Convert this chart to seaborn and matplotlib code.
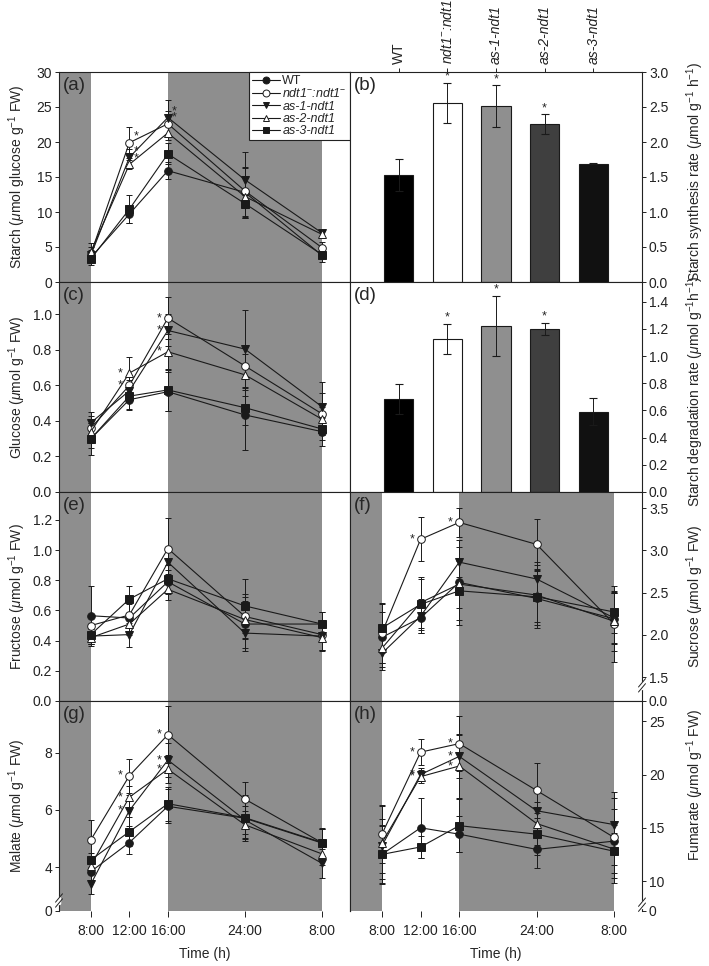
import numpy as np
import pandas as pd
import matplotlib
matplotlib.use('Agg')
import matplotlib.pyplot as plt
from matplotlib.lines import Line2D
import seaborn as sns

# ---- data ----
times = [8, 12, 16, 24, 32]
time_labels = ['8:00', '12:00', '16:00', '24:00', '8:00']
genotypes = ['WT', 'ndt1-:ndt1-', 'as-1-ndt1', 'as-2-ndt1', 'as-3-ndt1']
legend_labels = ['WT', r'ndt1$^{-}$:ndt1$^{-}$', 'as-1-ndt1', 'as-2-ndt1', 'as-3-ndt1']

# rows: WT, ndt1-:ndt1-, as-1, as-2, as-3 ; columns: times
starch = [[3.5, 9.7, 15.9, 12.8, 3.8],
          [4.0, 19.9, 22.6, 13.0, 4.9],
          [3.8, 17.8, 23.5, 14.6, 7.0],
          [4.3, 16.8, 21.3, 12.2, 6.8],
          [3.3, 10.4, 18.3, 11.2, 3.9]]
starch_err = [[0.6, 1.2, 1.2, 3.5, 0.9],
              [1.0, 2.2, 1.8, 3.5, 0.8],
              [0.8, 1.2, 2.5, 4.0, 0.5],
              [1.3, 0.7, 1.0, 3.0, 0.5],
              [0.8, 2.0, 1.5, 2.0, 0.5]]

glucose = [[0.30, 0.52, 0.565, 0.434, 0.34],
           [0.36, 0.60, 0.98, 0.71, 0.44],
           [0.39, 0.57, 0.91, 0.805, 0.48],
           [0.34, 0.67, 0.79, 0.66, 0.41],
           [0.30, 0.54, 0.575, 0.475, 0.355]]
glucose_err = [[0.09, 0.06, 0.11, 0.20, 0.08],
               [0.07, 0.05, 0.12, 0.12, 0.12],
               [0.06, 0.06, 0.09, 0.22, 0.14],
               [0.05, 0.09, 0.10, 0.12, 0.07],
               [0.05, 0.07, 0.12, 0.10, 0.06]]

fructose = [[0.565, 0.55, 0.79, 0.51, 0.51],
            [0.50, 0.57, 1.01, 0.56, 0.44],
            [0.43, 0.44, 0.92, 0.45, 0.43],
            [0.42, 0.51, 0.74, 0.54, 0.42],
            [0.44, 0.675, 0.81, 0.63, 0.51]]
fructose_err = [[0.20, 0.09, 0.08, 0.18, 0.08],
                [0.07, 0.08, 0.20, 0.15, 0.10],
                [0.05, 0.08, 0.08, 0.10, 0.10],
                [0.04, 0.07, 0.07, 0.12, 0.08],
                [0.06, 0.09, 0.09, 0.18, 0.08]]

sucrose = [[1.97, 2.20, 2.62, 2.43, 2.19],
           [2.02, 3.13, 3.33, 3.07, 2.13],
           [1.78, 2.22, 2.86, 2.66, 2.20],
           [1.84, 2.38, 2.60, 2.47, 2.16],
           [2.08, 2.36, 2.52, 2.45, 2.27]]
sucrose_err = [[0.30, 0.18, 0.50, 0.35, 0.30],
               [0.35, 0.26, 0.17, 0.30, 0.45],
               [0.20, 0.20, 0.18, 0.20, 0.30],
               [0.22, 0.30, 0.28, 0.35, 0.35],
               [0.30, 0.30, 0.35, 0.30, 0.25]]

malate = [[3.84, 4.86, 6.13, 5.71, 4.84],
          [4.95, 7.20, 8.64, 6.38, 4.85],
          [3.40, 5.98, 7.75, 5.65, 4.13],
          [4.05, 6.45, 7.43, 5.48, 4.46],
          [4.25, 5.24, 6.22, 5.73, 4.86]]
malate_err = [[0.30, 0.40, 0.60, 0.80, 0.50],
              [0.70, 0.60, 1.00, 0.60, 0.50],
              [0.35, 0.55, 0.60, 0.50, 0.50],
              [0.30, 0.40, 0.50, 0.50, 0.40],
              [0.25, 0.50, 0.60, 0.70, 0.50]]

fumarate = [[12.5, 15.0, 14.4, 12.97, 13.75],
            [14.4, 22.1, 22.9, 18.5, 14.1],
            [13.3, 20.0, 21.7, 16.6, 15.3],
            [13.6, 19.8, 20.8, 15.4, 13.0],
            [12.5, 13.2, 15.2, 14.4, 12.8]]
fumarate_err = [[2.8, 2.8, 1.7, 1.7, 3.0],
                [2.7, 1.2, 2.6, 2.6, 4.3],
                [2.5, 0.6, 2.0, 2.0, 2.5],
                [3.4, 0.6, 3.0, 2.0, 1.5],
                [2.7, 1.0, 2.5, 2.0, 2.5]]

synthesis = [1.53, 2.56, 2.51, 2.26, 1.69]
synthesis_err = [0.23, 0.29, 0.30, 0.14, 0.01]
degradation = [0.684, 1.127, 1.223, 1.199, 0.59]
degradation_err = [0.11, 0.11, 0.22, 0.045, 0.10]
bar_sig = [1, 2, 3]

# significance stars: (genotype index, time index)
starch_sig = [(1, 1), (2, 1), (3, 1), (1, 2), (2, 2)]
glucose_sig = [(3, 1), (1, 1), (1, 2), (2, 2), (3, 2)]
fructose_sig = []
sucrose_sig = [(1, 1), (1, 2)]
malate_sig = [(1, 1), (3, 1), (2, 1), (1, 2), (2, 2), (3, 2)]
fumarate_sig = [(1, 1), (2, 1), (3, 1), (1, 2), (2, 2), (3, 2)]

# ---- style ----
sns.set_theme(style='ticks')
plt.rcParams['font.family'] = ['Liberation Sans', 'DejaVu Sans']
plt.rcParams['mathtext.fontset'] = 'custom'
plt.rcParams['mathtext.rm'] = 'Liberation Sans'
plt.rcParams['mathtext.it'] = 'Liberation Sans:italic'
plt.rcParams['axes.linewidth'] = 0.8
plt.rcParams['axes.edgecolor'] = '#222222'

markers = ['o', 'o', 'v', '^', 's']
faces = ['k', 'w', 'k', 'w', 'k']
bar_colors = ['#000000', '#ffffff', '#8f8f8f', '#3f3f3f', '#111111']
shade = '#8e8e8e'
xlim = (4.7, 34.9)

fig = plt.figure(figsize=(7.09, 9.66), dpi=100)
W_PX, H_PX = 709, 966
col_left = [59, 350]
col_right = [350, 642]
row_top = [72, 282, 492, 701]
row_bot = [282, 492, 701, 911]
RIGHT_LABEL_X = 1.145


def make_ax(col, row):
    l = col_left[col] / W_PX
    w = (col_right[col] - col_left[col]) / W_PX
    b = 1 - row_bot[row] / H_PX
    h = (row_bot[row] - row_top[row]) / H_PX
    ax = fig.add_axes([l, b, w, h])
    ax.set_facecolor('white')
    ax.tick_params(labelsize=10, length=3, width=0.7, pad=2, colors='#222222')
    if col == 1:
        ax.yaxis.tick_right()
        ax.yaxis.set_label_position('right')
    return ax


def draw_break(ax, xa, ya):
    ax.plot([xa, xa], [ya - 0.012, ya + 0.012], transform=ax.transAxes,
            color='white', lw=2.5, clip_on=False, zorder=6)
    for off in (-0.012, 0.012):
        ax.plot([xa - 0.012, xa + 0.012], [ya + off - 0.02, ya + off + 0.02],
                transform=ax.transAxes, color='#222222', lw=0.7,
                clip_on=False, zorder=7)


def line_panel(col, row, vals, errs, sig, ylim, ticks, ticklabels, ylabel,
               letter, star_side='left', bottom=False):
    ax = make_ax(col, row)
    ax.axvspan(xlim[0], 8, color=shade, lw=0, zorder=0)
    ax.axvspan(16, 32, color=shade, lw=0, zorder=0)
    for i in range(len(genotypes)):
        ax.errorbar(times, vals[i], yerr=errs[i], fmt='none', ecolor='k',
                    elinewidth=0.7, capsize=2.5, capthick=0.7, zorder=2)
        sns.lineplot(x=times, y=vals[i], ax=ax, color='k', lw=0.8,
                     marker=markers[i], markersize=5.5,
                     markerfacecolor=faces[i], markeredgecolor='k',
                     markeredgewidth=0.7, errorbar=None, zorder=3,
                     legend=False)
    for gi, ti in sig:
        if star_side == 'left':
            ax.text(times[ti] - 0.9, vals[gi][ti], '*', ha='center',
                    va='center', fontsize=9, zorder=4)
        else:
            ax.text(times[ti] + 0.7, vals[gi][ti], '*', ha='center',
                    va='bottom', fontsize=9, zorder=4)
    ax.set_xlim(*xlim)
    ax.set_ylim(*ylim)
    ax.set_yticks(ticks)
    ax.set_yticklabels(ticklabels)
    if bottom:
        ax.spines['bottom'].set_visible(False)
        ax.set_xticks(times)
        ax.set_xticklabels(time_labels)
        ax.tick_params(axis='x', length=4.5, pad=5)
        ax.set_xlabel('Time (h)', fontsize=10, labelpad=6)
    else:
        ax.set_xticks([])
    ax.set_ylabel(ylabel, fontsize=10)
    if col == 0:
        ax.yaxis.set_label_coords(-0.105, 0.5)
    else:
        ax.yaxis.set_label_coords(RIGHT_LABEL_X, 0.5)
    ax.text(0.012, 0.975, letter, transform=ax.transAxes, ha='left',
            va='top', fontsize=13.5, zorder=5)
    return ax


def bar_panel(row, vals, errs, ylim, ticks, ticklabels, ylabel, letter):
    ax = make_ax(1, row)
    df = pd.DataFrame({'genotype': genotypes, 'value': vals})
    sns.barplot(data=df, x='genotype', y='value', hue='genotype',
                palette=bar_colors, order=genotypes, hue_order=genotypes,
                edgecolor='k', linewidth=0.8, width=0.6, legend=False, ax=ax)
    ax.errorbar(range(len(vals)), vals, yerr=errs, fmt='none', ecolor='k',
                elinewidth=0.7, capsize=3, capthick=0.8, zorder=4)
    for i in bar_sig:
        ax.text(i, vals[i] + errs[i], '*', ha='center', va='bottom',
                fontsize=9)
    ax.set_xlim(-1, 5)
    ax.set_ylim(*ylim)
    ax.set_yticks(ticks)
    ax.set_yticklabels(ticklabels)
    ax.set_xlabel('')
    ax.set_ylabel(ylabel, fontsize=10)
    ax.text(0.012, 0.975, letter, transform=ax.transAxes, ha='left',
            va='top', fontsize=13.5, zorder=5)
    return ax


# (a) starch
ax_a = line_panel(0, 0, starch, starch_err, starch_sig, (0, 30),
                  [0, 5, 10, 15, 20, 25, 30],
                  ['0', '5', '10', '15', '20', '25', '30'],
                  r'Starch ($\mu$mol glucose g$^{-1}$ FW)', '(a)',
                  star_side='right')
handles = [Line2D([0], [0], color='k', lw=0.8, marker=markers[i],
                  markersize=5, markerfacecolor=faces[i],
                  markeredgecolor='k', markeredgewidth=0.7)
           for i in range(len(genotypes))]
leg = ax_a.legend(handles, legend_labels, loc='upper right', fontsize=9,
                  frameon=True, fancybox=False, edgecolor='#222222',
                  framealpha=1, borderaxespad=0, borderpad=0.25,
                  labelspacing=0.02, handlelength=2.2, handletextpad=0.2)
leg.get_frame().set_linewidth(0.8)
for i, t in enumerate(leg.get_texts()):
    if i > 0:
        t.set_fontstyle('italic')

# (b) starch synthesis rate
ax_b = bar_panel(0, synthesis, synthesis_err, (0, 3.0),
                 [0, 0.5, 1.0, 1.5, 2.0, 2.5, 3.0],
                 ['0.0', '0.5', '1.0', '1.5', '2.0', '2.5', '3.0'],
                 r'Starch synthesis rate ($\mu$mol g$^{-1}$ h$^{-1}$)', '(b)')
ax_b.xaxis.tick_top()
ax_b.set_xticks(range(len(genotypes)))
ax_b.set_xticklabels(legend_labels, rotation=90)
ax_b.tick_params(axis='x', length=3, pad=3, labelsize=10)
for i, t in enumerate(ax_b.get_xticklabels()):
    if i > 0:
        t.set_fontstyle('italic')
ax_b.yaxis.label.set_horizontalalignment('left')
ax_b.yaxis.set_label_coords(RIGHT_LABEL_X, 0.0)

# (c) glucose
line_panel(0, 1, glucose, glucose_err, glucose_sig, (0, 1.183),
           [0, 0.2, 0.4, 0.6, 0.8, 1.0],
           ['0.0', '0.2', '0.4', '0.6', '0.8', '1.0'],
           r'Glucose ($\mu$mol g$^{-1}$ FW)', '(c)')

# (d) starch degradation rate
ax_d = bar_panel(1, degradation, degradation_err, (0, 1.545),
                 [0, 0.2, 0.4, 0.6, 0.8, 1.0, 1.2, 1.4],
                 ['0.0', '0.2', '0.4', '0.6', '0.8', '1.0', '1.2', '1.4'],
                 r'Starch degradation rate ($\mu$mol g$^{-1}$h$^{-1}$)', '(d)')
ax_d.set_xticks([])
ax_d.yaxis.set_label_coords(RIGHT_LABEL_X, 0.48)

# (e) fructose
line_panel(0, 2, fructose, fructose_err, fructose_sig, (0, 1.385),
           [0, 0.2, 0.4, 0.6, 0.8, 1.0, 1.2],
           ['0.0', '0.2', '0.4', '0.6', '0.8', '1.0', '1.2'],
           r'Fructose ($\mu$mol g$^{-1}$ FW)', '(e)')

# (f) sucrose (broken axis)
ax_f = line_panel(1, 2, sucrose, sucrose_err, sucrose_sig, (1.216, 3.69),
                  [1.216, 1.5, 2.0, 2.5, 3.0, 3.5],
                  ['0.0', '1.5', '2.0', '2.5', '3.0', '3.5'],
                  r'Sucrose ($\mu$mol g$^{-1}$ FW)', '(f)')
draw_break(ax_f, 1.0, 0.075)

# (g) malate (broken axis)
ax_g = line_panel(0, 3, malate, malate_err, malate_sig, (2.46, 9.82),
                  [2.46, 4, 6, 8], ['0', '4', '6', '8'],
                  r'Malate ($\mu$mol g$^{-1}$ FW)', '(g)', bottom=True)
draw_break(ax_g, 0.0, 0.05)

# (h) fumarate (broken axis)
ax_h = line_panel(1, 3, fumarate, fumarate_err, fumarate_sig, (7.19, 26.9),
                  [7.19, 10, 15, 20, 25], ['0', '10', '15', '20', '25'],
                  r'Fumarate ($\mu$mol g$^{-1}$ FW)', '(h)', bottom=True)
ax_h.yaxis.set_label_coords(RIGHT_LABEL_X, 0.6)
draw_break(ax_h, 1.0, 0.03)

fig.savefig('out.png', dpi=100)
